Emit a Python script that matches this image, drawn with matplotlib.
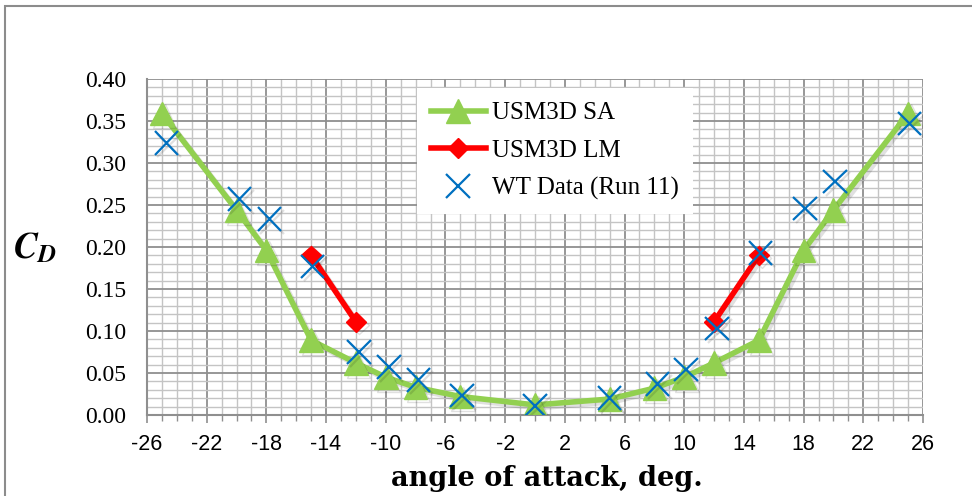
import matplotlib
matplotlib.use("Agg")
import matplotlib.pyplot as plt
import matplotlib.patheffects as pe
from matplotlib.ticker import MultipleLocator, FormatStrFormatter
from matplotlib.patches import Rectangle

plt.rcParams["mathtext.fontset"] = "stix"

# USM3D SA (green triangles)
sa_alpha = [-25, -20, -18, -15, -12, -10, -8, -5, 0, 5, 8, 10, 12, 15, 18, 20, 25]
sa_cd = [0.359, 0.244, 0.196, 0.089, 0.062, 0.045, 0.033, 0.022, 0.012,
         0.019, 0.032, 0.045, 0.062, 0.089, 0.196, 0.244, 0.359]

# USM3D LM (red diamonds), two separate segments
lm_alpha_neg = [-15, -12]
lm_cd_neg = [0.190, 0.111]
lm_alpha_pos = [12, 15]
lm_cd_pos = [0.111, 0.190]

# WT Data (Run 11)
wt_alpha = [-24.7, -19.8, -17.8, -14.9, -11.8, -9.8, -7.8, -4.9, 0.0,
            5.0, 8.2, 10.1, 12.2, 15.1, 18.1, 20.1, 25.1]
wt_cd = [0.324, 0.257, 0.233, 0.177, 0.075, 0.057, 0.042, 0.023, 0.011,
         0.020, 0.037, 0.054, 0.103, 0.193, 0.246, 0.278, 0.347]

x_ticks = list(range(-26, 27, 4))

fig = plt.figure(figsize=(9.72, 4.96), dpi=100)
ax = fig.add_axes([0.1512, 0.1633, 0.7984, 0.6774])

# outer frame of the original chart
fig.patches.append(Rectangle((0.005, -0.05), 1.1, 1.038, transform=fig.transFigure,
                             fill=False, edgecolor="#8c8c8c", linewidth=1.5, zorder=0))

ax.set_xlim(-26, 26)
ax.set_ylim(0, 0.40)
ax.xaxis.set_minor_locator(MultipleLocator(1))
ax.yaxis.set_major_locator(MultipleLocator(0.05))
ax.yaxis.set_minor_locator(MultipleLocator(0.01))
ax.yaxis.set_major_formatter(FormatStrFormatter("%.2f"))
ax.set_xticks(x_ticks)
ax.set_xticklabels([str(t) for t in x_ticks])

ax.grid(which="major", color="#8f8f8f", linewidth=1.3)
ax.grid(which="minor", color="#c4c4c4", linewidth=1.0)
ax.set_axisbelow(True)

for s in ["top", "right"]:
    ax.spines[s].set_visible(False)
for s in ["left", "bottom"]:
    ax.spines[s].set_color("#8f8f8f")
    ax.spines[s].set_linewidth(1.5)

ax.tick_params(axis="x", which="major", color="#8f8f8f", length=6, width=1.2, pad=8,
               labelsize=15.5, labelfontfamily="Liberation Sans")
ax.tick_params(axis="x", which="minor", color="#8f8f8f", length=4, width=1.0)
ax.tick_params(axis="y", which="both", length=0, pad=15,
               labelsize=17, labelfontfamily="Liberation Serif")

shadow = [pe.SimpleLineShadow(offset=(2, -2), shadow_color="#000000", alpha=0.12),
          pe.Normal()]

ax.plot(sa_alpha, sa_cd, color="#92D050", linewidth=4, marker="^",
        markersize=17, label="USM3D SA", zorder=3, path_effects=shadow)
ax.plot(lm_alpha_neg, lm_cd_neg, color="#FF0000", linewidth=4, marker="D",
        markersize=10, label="USM3D LM", zorder=4, path_effects=shadow)
ax.plot(lm_alpha_pos, lm_cd_pos, color="#FF0000", linewidth=4, marker="D",
        markersize=10, zorder=4, path_effects=shadow)
ax.plot(wt_alpha, wt_cd, linestyle="none", color="#0070C0", marker="x",
        markersize=17, markeredgewidth=1.6, label="WT Data (Run 11)", zorder=5,
        path_effects=shadow)

leg = ax.legend(loc="upper left", bbox_to_anchor=(0.348, 0.973), frameon=True,
                fancybox=False, edgecolor="none", facecolor="white", framealpha=1,
                prop={"family": "Liberation Serif", "size": 18},
                handlelength=2.2, handletextpad=0.25, labelspacing=0.6,
                borderpad=0.55, borderaxespad=0)
for h in leg.legend_handles:
    h.set_path_effects([])

ax.set_xlabel("angle of attack, deg.", family="DejaVu Serif", weight="bold",
              fontsize=19.5)
ax.xaxis.set_label_coords(0.515, -0.15)
fig.text(0.036, 0.50, r"$\mathbfit{C}_{\mathbfit{D}}$", fontsize=26,
         ha="center", va="center")

fig.savefig("out.png", dpi=100)
